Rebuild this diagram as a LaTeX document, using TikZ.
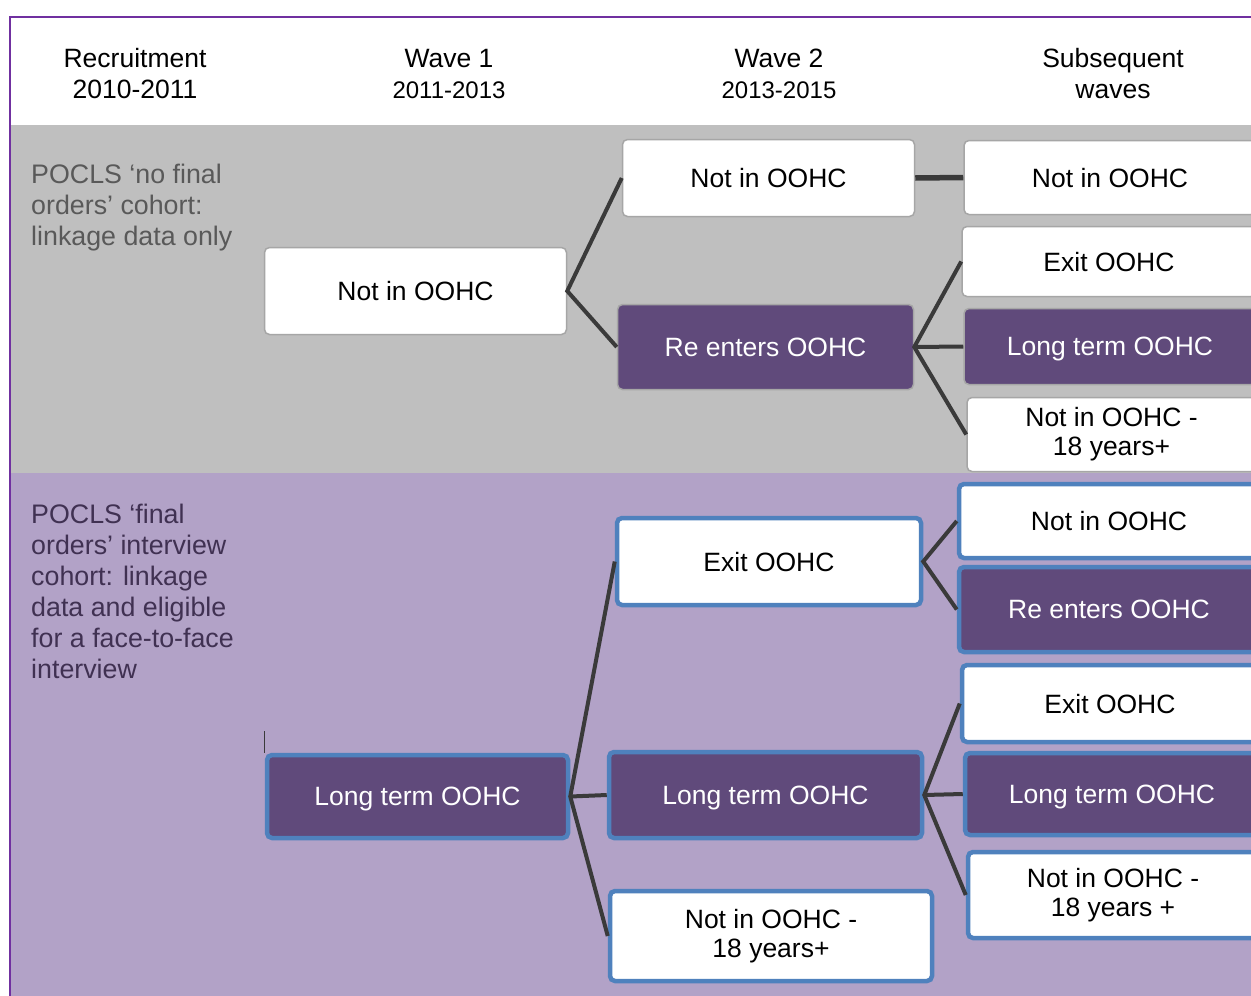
\documentclass[tikz,border=0pt]{standalone}
\usepackage{fontspec}
\setmainfont{Liberation Sans}
\definecolor{framepurple}{HTML}{7030A0}
\definecolor{bandgrey}{HTML}{BFBFBF}
\definecolor{bandpurple}{HTML}{B2A2C7}
\definecolor{boxpurple}{HTML}{604A7B}
\definecolor{boxblue}{HTML}{4F81BD}
\definecolor{linegrey}{HTML}{3A3A3A}
\definecolor{thinborder}{HTML}{A6A6A6}
\definecolor{greytext}{HTML}{595959}
\definecolor{purpletext}{HTML}{403152}
\tikzset{
  box/.style={rounded corners=5pt, font=\fontsize{26.5}{29}\selectfont, align=center, inner sep=2pt},
  one/.style={text depth=0pt},
  two/.style={yshift=-2pt},
  topw/.style={box, fill=white, draw=thinborder, line width=1.5pt, text=black},
  topp/.style={box, fill=boxpurple, draw=thinborder, line width=1.5pt, text=white},
  botw/.style={box, fill=white, draw=boxblue, line width=4.5pt, text=black},
  botp/.style={box, fill=boxpurple, draw=boxblue, line width=4.5pt, text=white},
  link/.style={draw=linegrey, line width=4pt},
  hdr/.style={align=center, inner sep=0pt, font=\fontsize{26.5}{31}\selectfont},
  lefttext/.style={anchor=north west, align=left, inner sep=0pt, font=\fontsize{26.8}{31}\selectfont}
}
\begin{document}
\begin{tikzpicture}[x=1pt,y=-1pt]
\useasboundingbox (0,0) rectangle (1251,996);
\fill[bandgrey] (10,125) rectangle (1251,473);
\fill[bandpurple] (10,473) rectangle (1251,996);
\draw[framepurple, line width=2pt] (10,996) -- (10,17) -- (1251,17);

% headers
\node[hdr] (h0) at (135,74) {Recruitment\\2010-2011};
\node[hdr] (h1) at (449,74) {Wave 1\\{\fontsize{24}{29}\selectfont 2011-2013}};
\node[hdr] (h2) at (779,74) {Wave 2\\{\fontsize{24}{29}\selectfont 2013-2015}};
\node[hdr] (h3) at (1113,74) {Subsequent\\waves};

% left column texts
\node[lefttext, text=greytext] (lt1) at (31,163.5) {POCLS ‘no final\\orders’ cohort:\\linkage data only};
\node[lefttext, text=purpletext] (lt2) at (31,503.5) {POCLS ‘final\\orders’ interview\\cohort: linkage\\data and eligible\\for a face-to-face\\interview};

% top cohort boxes
\node[topw, one, minimum width=302pt, minimum height=87pt] (a1) at (415.5,291) {Not in OOHC};
\node[topw, one, minimum width=292pt, minimum height=77pt] (b1) at (768.5,178) {Not in OOHC};
\node[topp, one, minimum width=296pt, minimum height=85pt] (b2) at (765.5,347) {Re enters OOHC};
\node[topw, one, minimum width=292pt, minimum height=74pt] (c1) at (1110,177.5) {Not in OOHC};
\node[topw, one, minimum width=294pt, minimum height=70pt] (c2) at (1109,261.5) {Exit OOHC};
\node[topp, one, minimum width=292pt, minimum height=76pt] (c3) at (1110,346.5) {Long term OOHC};
\node[topw, two, minimum width=289pt, minimum height=74pt] (c4) at (1111.5,432.5) {Not in OOHC -\\18 years+};

% bottom cohort boxes
\node[botp, one, minimum width=301pt, minimum height=83pt] (d1) at (417.5,796.5) {Long term OOHC};
\node[botw, one, minimum width=304pt, minimum height=87pt] (e1) at (769,561.5) {Exit OOHC};
\node[botp, one, minimum width=313pt, minimum height=86pt] (e2) at (765.5,795) {Long term OOHC};
\node[botw, two, minimum width=322pt, minimum height=90pt] (e3) at (771,934) {Not in OOHC -\\18 years+};
\node[botw, one, minimum width=300pt, minimum height=74pt] (f1) at (1109,521) {Not in OOHC};
\node[botp, one, minimum width=300pt, minimum height=85pt] (f2) at (1109,609.5) {Re enters OOHC};
\node[botw, one, minimum width=296pt, minimum height=77pt] (f3) at (1110,703.5) {Exit OOHC};
\node[botp, one, minimum width=294pt, minimum height=82pt] (f4) at (1112,794) {Long term OOHC};
\node[botw, two, minimum width=290pt, minimum height=86pt] (f5) at (1113,893) {Not in OOHC -\\18 years +};

% connectors top
\draw[link] (b1.west) -- (a1.east) -- (b2.west);
\draw[link, line width=5.5pt] (b1.east) -- (c1.west);
\draw[link] (c2.west) -- (b2.east) -- (c4.west);
\draw[link] (b2.east) -- (c3.west);

% connectors bottom
\draw[link] (e1.west) -- (d1.east) -- (e3.west);
\draw[link] (d1.east) -- (e2.west);
\draw[link] (f1.west) -- (e1.east) -- (f2.west);
\draw[link] (f3.west) -- (e2.east) -- (f5.west);
\draw[link] (e2.east) -- (f4.west);
\draw[draw=linegrey, line width=1pt] (d1.north west) -- ++(0,-22);
\end{tikzpicture}
\end{document}
